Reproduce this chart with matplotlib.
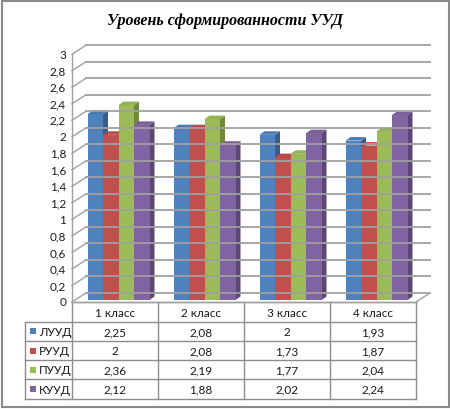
import matplotlib
matplotlib.use("Agg")
import matplotlib.pyplot as plt
from matplotlib.patches import Rectangle, Polygon
import numpy as np

# данные
categories = ["1 класс", "2 класс", "3 класс", "4 класс"]
series_names = ["ЛУУД", "РУУД", "ПУУД", "КУУД"]
luud = [2.25, 2.08, 2.0, 1.93]
ruud = [2.0, 2.08, 1.73, 1.87]
puud = [2.36, 2.19, 1.77, 2.04]
kuud = [2.12, 1.88, 2.02, 2.24]
yticks = np.round(np.arange(0, 3.01, 0.2), 1)
title = "Уровень сформированности УУД"

series = [luud, ruud, puud, kuud]
front_cols = ["#4F81BD", "#C0504D", "#9BBB59", "#8064A2"]
side_cols = ["#385D8A", "#8C3836", "#71893F", "#5C4776"]
top_cols = ["#4A7AB5", "#B84B48", "#93B254", "#7A5F9A"]


def fmt(v):
    return ("%g" % v).replace(".", ",")


W, H = 450, 410
fig = plt.figure(figsize=(W / 100, H / 100), dpi=100)
fig.patch.set_facecolor("white")

# plot-area in pixels (front plane)
x0, x1 = 72, 416
y0, y3 = 303, 55.2
ax = fig.add_axes([x0 / W, 1 - y0 / H, (x1 - x0) / W, (y0 - y3) / H])
ax.set_xlim(0, 4)
ax.set_ylim(0, 3)
ax.axis("off")

px = 4 / (x1 - x0)
py = 3 / (y0 - y3)
grid_c = "#A0A0A0"

# walls / gridlines
bdx, bdy = 14 * px, 9 * py
for v in yticks:
    ax.plot([bdx, 4 + bdx], [v + bdy, v + bdy], color=grid_c, lw=1.3, clip_on=False)
    ax.plot([0, bdx], [v, v + bdy], color=grid_c, lw=1.0, clip_on=False)
ax.plot([0, 0], [0, 3], color=grid_c, lw=1.0, clip_on=False)
ax.plot([4, 4 + bdx], [0, bdy], color=grid_c, lw=1.0, clip_on=False)
ax.plot([0, 4], [0, 0], color=grid_c, lw=1.0, clip_on=False)

# bars
bw = 15.5 * px
margin = (1 - 4 * bw) / 2
ox, oy = 3.5 * px, 2 * py
ddx, ddy = 5 * px, 3.5 * py
for i in range(len(categories)):
    for j, s in enumerate(series):
        v = s[i]
        xl = i + margin + j * bw + ox
        xr = xl + bw
        b = oy
        side = Polygon([(xr, b), (xr + ddx, b + ddy), (xr + ddx, b + v + ddy), (xr, b + v)],
                       closed=True, fc=side_cols[j], ec="none", clip_on=False)
        top = Polygon([(xl, b + v), (xr, b + v), (xr + ddx, b + v + ddy), (xl + ddx, b + v + ddy)],
                      closed=True, fc=top_cols[j], ec="none", clip_on=False)
        ax.add_patch(side)
        ax.add_patch(top)
        ax.add_patch(Rectangle((xl, b), bw, v, fc=front_cols[j], ec="none", clip_on=False))

# overlay in pixel coordinates: title, ticks, table, border
ov = fig.add_axes([0, 0, 1, 1], zorder=-1)
ov.set_xlim(0, W)
ov.set_ylim(H, 0)
ov.axis("off")
ov.add_patch(Rectangle((1.5, 1.5), W - 3, H - 4, fill=False, ec="#8A8A8A", lw=1.5))

fig.text(0.5, 1 - 21 / H, title, ha="center", va="center", fontsize=11.5,
         fontweight="bold", fontstyle="italic", family="Liberation Serif")

tfont = dict(family=["Lato", "DejaVu Sans"], fontsize=8.5, color="#1a1a1a")
for v in yticks:
    ax.text(-6 * px, v, fmt(v), ha="right", va="center", clip_on=False, **tfont)

# table
line_c = "#8C8C8C"
row_edges = [303, 322.5, 342, 361, 380, 399.5]
col_edges = [72, 158, 244, 330, 416]
tx0 = 25
ov.plot([x0, x1], [row_edges[0], row_edges[0]], color=line_c, lw=1)
for r in row_edges[1:]:
    ov.plot([tx0, x1], [r, r], color=line_c, lw=1)
for c in col_edges:
    ov.plot([c, c], [row_edges[0], row_edges[-1]], color=line_c, lw=1)
ov.plot([tx0, tx0], [row_edges[1], row_edges[-1]], color=line_c, lw=1)

for i, cat in enumerate(categories):
    cx = (col_edges[i] + col_edges[i + 1]) / 2
    ov.text(cx, (row_edges[0] + row_edges[1]) / 2 + 0.5, cat, ha="center", va="center", **tfont)
for j, name in enumerate(series_names):
    cy = (row_edges[j + 1] + row_edges[j + 2]) / 2
    ov.add_patch(Rectangle((30, cy - 3), 6, 6, fc=front_cols[j], ec="none"))
    ov.text(39, cy + 0.5, name, ha="left", va="center", **tfont)
    for i in range(len(categories)):
        cx = (col_edges[i] + col_edges[i + 1]) / 2
        ov.text(cx, cy + 0.5, fmt(series[j][i]), ha="center", va="center", **tfont)

fig.savefig("out.png", dpi=100)
